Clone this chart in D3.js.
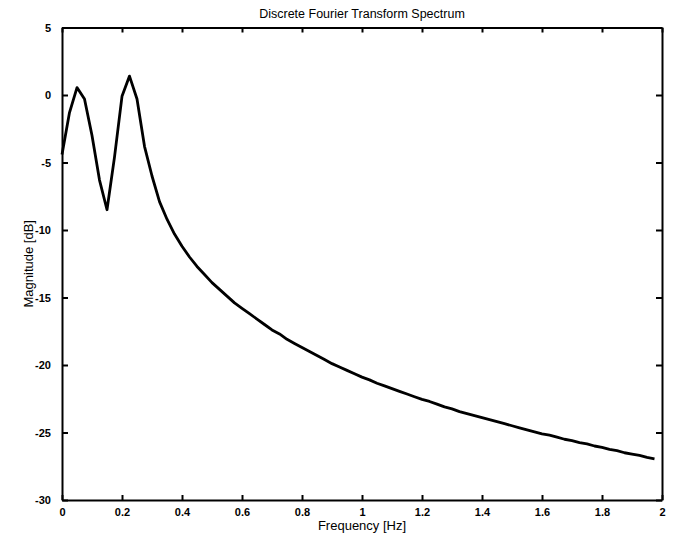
<!DOCTYPE html>
<html>
<head>
<meta charset="utf-8">
<script src="https://d3js.org/d3.v7.min.js"></script>
<style>
  body { margin: 0; background: #fff; }
  text { font-family: "Liberation Sans", Arial, sans-serif; }
</style>
</head>
<body>
<svg id="chart"></svg>
<script>
// spectrum, 0.025 Hz spacing
var freqStep = 0.025;
var magnitude = [
  -4.4, -1.3, 0.55, -0.3, -3.0, -6.3, -8.5, -4.6, -0.1, 1.4,
  -0.3, -3.8, -6.0, -7.9, -9.2, -10.3, -11.2, -12.0, -12.7, -13.3,
  -13.9, -14.4, -14.9, -15.4, -15.8, -16.2, -16.6, -17.0, -17.4, -17.7,
  -18.1, -18.4, -18.7, -19.0, -19.3, -19.6, -19.9, -20.15, -20.4, -20.65,
  -20.9, -21.1, -21.35, -21.55, -21.75, -21.95, -22.15, -22.35, -22.55, -22.7,
  -22.9, -23.1, -23.25, -23.45, -23.6, -23.75, -23.9, -24.05, -24.2, -24.35,
  -24.5, -24.65, -24.8, -24.95, -25.1, -25.2, -25.35, -25.5, -25.6, -25.75,
  -25.85, -26.0, -26.1, -26.25, -26.35, -26.5, -26.6, -26.7, -26.85, -26.95
];
var xTicks = [0, 0.2, 0.4, 0.6, 0.8, 1, 1.2, 1.4, 1.6, 1.8, 2];
var yTicks = [-30, -25, -20, -15, -10, -5, 0, 5];

function drawSpectrum(svgname) {

   var width = 678,
       height = 537,
       left = 62, right = 662,
       top = 27.5, bottom = 500;

   var svg = d3.select('#' + svgname)
       .attr('width', width)
       .attr('height', height);

   var x = d3.scaleLinear().domain([0, 2]).range([left, right]);
   var y = d3.scaleLinear().domain([-30, 5]).range([bottom, top]);

   // plain hyphen for negatives, like the original
   var fmt = function(d) { return String(d); };

   // bottom / top axes, ticks pointing inward
   svg.append('g')
       .attr('class', 'axis')
       .attr('transform', 'translate(0,' + bottom + ')')
       .call(d3.axisBottom(x).tickValues(xTicks).tickSizeInner(-5).tickSizeOuter(0).tickPadding(8).tickFormat(fmt));
   svg.append('g')
       .attr('class', 'axis')
       .attr('transform', 'translate(0,' + top + ')')
       .call(d3.axisTop(x).tickValues(xTicks).tickSizeInner(-5).tickSizeOuter(0).tickFormat(''));

   // left / right axes
   svg.append('g')
       .attr('class', 'axis')
       .attr('transform', 'translate(' + left + ',0)')
       .call(d3.axisLeft(y).tickValues(yTicks).tickSizeInner(-6).tickSizeOuter(0).tickPadding(11).tickFormat(fmt));
   svg.append('g')
       .attr('class', 'axis')
       .attr('transform', 'translate(' + right + ',0)')
       .call(d3.axisRight(y).tickValues(yTicks).tickSizeInner(-6).tickSizeOuter(0).tickFormat(''));

   svg.selectAll('.axis .domain')
       .attr('stroke', '#000')
       .attr('stroke-width', 2);
   svg.selectAll('.axis .tick line')
       .attr('stroke', '#000')
       .attr('stroke-width', 2);
   svg.selectAll('.axis .tick text')
       .attr('fill', '#000')
       .style('font-size', '11px')
       .style('font-weight', 'bold')
       .style('font-family', '"Liberation Sans", Arial, sans-serif');

   var line = d3.line()
       .x(function(d, i) { return x(i * freqStep); })
       .y(function(d) { return y(d); });

   svg.append('path')
       .datum(magnitude)
       .attr('fill', 'none')
       .attr('stroke', '#000')
       .attr('stroke-width', 2.8)
       .attr('stroke-linejoin', 'round')
       .attr('d', line);

   svg.append('text')
       .attr('x', (left + right) / 2)
       .attr('y', 18)
       .attr('text-anchor', 'middle')
       .style('font-size', '12.5px')
       .text('Discrete Fourier Transform Spectrum');

   svg.append('text')
       .attr('x', (left + right) / 2)
       .attr('y', 530)
       .attr('text-anchor', 'middle')
       .style('font-size', '13px')
       .text('Frequency [Hz]');

   svg.append('text')
       .attr('transform', 'translate(33,' + (top + bottom) / 2 + ') rotate(-90)')
       .attr('text-anchor', 'middle')
       .style('font-size', '13px')
       .text('Magnitude [dB]');
}

drawSpectrum('chart');
</script>
</body>
</html>
